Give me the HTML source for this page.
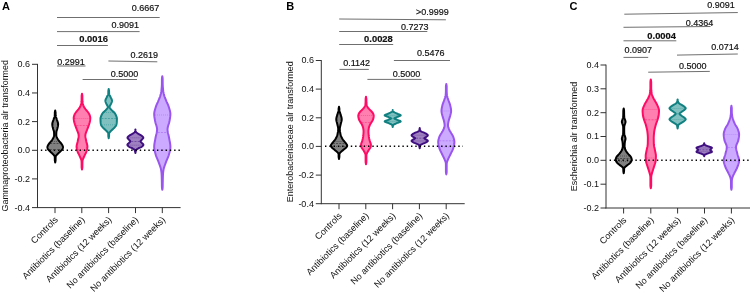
<!DOCTYPE html>
<html><head><meta charset="utf-8"><title>Figure</title>
<style>html,body{margin:0;padding:0;background:#fff;}svg{display:block;}</style>
</head><body>
<svg width="751" height="293" viewBox="0 0 751 293" font-family='"Liberation Sans", sans-serif'>
<rect width="751" height="293" fill="#ffffff"/>
<line x1="37.5" y1="63.9" x2="37.5" y2="208.0" stroke="#333" stroke-width="1.0"/>
<line x1="37.1" y1="207.6" x2="180.6" y2="207.6" stroke="#333" stroke-width="1.0"/>
<line x1="32.0" y1="64.3" x2="37.5" y2="64.3" stroke="#333" stroke-width="1.0"/>
<text x="30.1" y="67.2" font-size="9.0" text-anchor="end" font-weight="normal" fill="#111">0.6</text>
<line x1="32.0" y1="92.96" x2="37.5" y2="92.96" stroke="#333" stroke-width="1.0"/>
<text x="30.1" y="95.86" font-size="9.0" text-anchor="end" font-weight="normal" fill="#111">0.4</text>
<line x1="32.0" y1="121.6" x2="37.5" y2="121.6" stroke="#333" stroke-width="1.0"/>
<text x="30.1" y="124.5" font-size="9.0" text-anchor="end" font-weight="normal" fill="#111">0.2</text>
<line x1="32.0" y1="150.3" x2="37.5" y2="150.3" stroke="#333" stroke-width="1.0"/>
<text x="30.1" y="153.20000000000002" font-size="9.0" text-anchor="end" font-weight="normal" fill="#111">0.0</text>
<line x1="32.0" y1="178.9" x2="37.5" y2="178.9" stroke="#333" stroke-width="1.0"/>
<text x="30.1" y="181.8" font-size="9.0" text-anchor="end" font-weight="normal" fill="#111">-0.2</text>
<line x1="32.0" y1="207.6" x2="37.5" y2="207.6" stroke="#333" stroke-width="1.0"/>
<text x="30.1" y="210.5" font-size="9.0" text-anchor="end" font-weight="normal" fill="#111">-0.4</text>
<line x1="55.0" y1="207.6" x2="55.0" y2="213.1" stroke="#333" stroke-width="1.0"/>
<line x1="81.8" y1="207.6" x2="81.8" y2="213.1" stroke="#333" stroke-width="1.0"/>
<line x1="108.6" y1="207.6" x2="108.6" y2="213.1" stroke="#333" stroke-width="1.0"/>
<line x1="135.5" y1="207.6" x2="135.5" y2="213.1" stroke="#333" stroke-width="1.0"/>
<line x1="162.3" y1="207.6" x2="162.3" y2="213.1" stroke="#333" stroke-width="1.0"/>
<text x="8.1" y="211.5" font-size="8.95" text-anchor="start" font-weight="normal" fill="#111" transform="rotate(-90 8.1 211.5)">Gammaproteobacteria alr transformed</text>
<text x="58.5" y="220.29999999999998" font-size="9.1" text-anchor="end" font-weight="normal" fill="#111" transform="rotate(-45 58.5 220.29999999999998)">Controls</text>
<text x="85.3" y="220.29999999999998" font-size="9.1" text-anchor="end" font-weight="normal" fill="#111" transform="rotate(-45 85.3 220.29999999999998)">Antibiotics (baseline)</text>
<text x="112.1" y="220.29999999999998" font-size="9.1" text-anchor="end" font-weight="normal" fill="#111" transform="rotate(-45 112.1 220.29999999999998)">Antibiotics (12 weeks)</text>
<text x="139.0" y="220.29999999999998" font-size="9.1" text-anchor="end" font-weight="normal" fill="#111" transform="rotate(-45 139.0 220.29999999999998)">No antibiotics (baseline)</text>
<text x="165.8" y="220.29999999999998" font-size="9.1" text-anchor="end" font-weight="normal" fill="#111" transform="rotate(-45 165.8 220.29999999999998)">No antibiotics (12 weeks)</text>
<path d="M55.20,110.50 L55.33,111.16 L55.45,111.82 L55.58,112.47 L55.58,113.13 L55.59,113.79 L55.60,114.45 L55.61,115.11 L55.66,115.77 L55.79,116.42 L55.99,117.08 L56.22,117.74 L56.46,118.40 L56.67,119.06 L56.88,119.72 L57.11,120.37 L57.36,121.03 L57.59,121.69 L57.80,122.35 L57.97,123.01 L58.09,123.66 L58.12,124.32 L58.09,124.98 L58.01,125.64 L57.89,126.30 L57.75,126.96 L57.58,127.61 L57.41,128.27 L57.25,128.93 L57.06,129.59 L56.82,130.25 L56.59,130.91 L56.42,131.56 L56.35,132.22 L56.32,132.88 L56.30,133.54 L56.28,134.20 L56.27,134.85 L56.27,135.51 L56.38,136.17 L56.64,136.83 L56.94,137.49 L57.24,138.15 L57.60,138.80 L58.00,139.46 L58.45,140.12 L58.95,140.78 L59.47,141.44 L60.02,142.09 L60.60,142.75 L61.15,143.41 L61.64,144.07 L62.10,144.73 L62.46,145.39 L62.73,146.04 L62.95,146.70 L63.00,147.36 L62.88,148.02 L62.64,148.68 L62.33,149.34 L61.80,149.99 L61.16,150.65 L60.50,151.31 L59.77,151.97 L59.02,152.63 L58.32,153.28 L57.64,153.94 L57.00,154.60 L56.43,155.26 L55.89,155.92 L55.68,156.58 L55.64,157.23 L55.61,157.89 L55.60,158.55 L55.59,159.21 L55.58,159.87 L55.58,160.53 L55.45,161.18 L55.33,161.84 L55.20,162.50 L55.20,162.50 L55.07,161.84 L54.95,161.18 L54.82,160.53 L54.82,159.87 L54.81,159.21 L54.80,158.55 L54.79,157.89 L54.76,157.23 L54.72,156.58 L54.51,155.92 L53.97,155.26 L53.40,154.60 L52.76,153.94 L52.08,153.28 L51.38,152.63 L50.63,151.97 L49.90,151.31 L49.24,150.65 L48.60,149.99 L48.07,149.34 L47.76,148.68 L47.52,148.02 L47.40,147.36 L47.45,146.70 L47.67,146.04 L47.94,145.39 L48.30,144.73 L48.76,144.07 L49.25,143.41 L49.80,142.75 L50.38,142.09 L50.93,141.44 L51.45,140.78 L51.95,140.12 L52.40,139.46 L52.80,138.80 L53.16,138.15 L53.46,137.49 L53.76,136.83 L54.02,136.17 L54.13,135.51 L54.13,134.85 L54.12,134.20 L54.10,133.54 L54.08,132.88 L54.05,132.22 L53.98,131.56 L53.81,130.91 L53.58,130.25 L53.34,129.59 L53.15,128.93 L52.99,128.27 L52.82,127.61 L52.65,126.96 L52.51,126.30 L52.39,125.64 L52.31,124.98 L52.28,124.32 L52.31,123.66 L52.43,123.01 L52.60,122.35 L52.81,121.69 L53.04,121.03 L53.29,120.37 L53.52,119.72 L53.73,119.06 L53.94,118.40 L54.18,117.74 L54.41,117.08 L54.61,116.42 L54.74,115.77 L54.79,115.11 L54.80,114.45 L54.81,113.79 L54.82,113.13 L54.82,112.47 L54.95,111.82 L55.07,111.16 L55.20,110.50Z" fill="#808080" stroke="#000000" stroke-width="2.0" stroke-linejoin="round"/>
<line x1="50.13" x2="60.27" y1="143.6" y2="143.6" stroke="#000000" stroke-width="0.55" stroke-dasharray="2 1.2" opacity="0.85"/>
<line x1="51.90" x2="58.50" y1="141.5" y2="141.5" stroke="#000000" stroke-width="0.55" stroke-dasharray="0.8 1.2" opacity="0.85"/>
<line x1="49.06" x2="61.34" y1="149.3" y2="149.3" stroke="#000000" stroke-width="0.55" stroke-dasharray="0.8 1.2" opacity="0.85"/>
<path d="M82.00,93.80 L82.18,94.76 L82.36,95.72 L82.38,96.67 L82.38,97.63 L82.39,98.59 L82.40,99.55 L82.42,100.51 L82.48,101.47 L82.59,102.42 L82.76,103.38 L82.97,104.34 L83.28,105.30 L83.68,106.26 L84.17,107.22 L84.72,108.17 L85.46,109.13 L86.30,110.09 L87.13,111.05 L87.86,112.01 L88.54,112.96 L89.15,113.92 L89.55,114.88 L89.89,115.84 L90.16,116.80 L90.30,117.76 L90.28,118.71 L90.19,119.67 L90.06,120.63 L89.90,121.59 L89.66,122.55 L89.36,123.51 L89.06,124.46 L88.73,125.42 L88.38,126.38 L88.01,127.34 L87.64,128.30 L87.30,129.25 L86.95,130.21 L86.56,131.17 L86.16,132.13 L85.80,133.09 L85.51,134.05 L85.35,135.00 L85.33,135.96 L85.42,136.92 L85.57,137.88 L85.77,138.84 L85.97,139.79 L86.17,140.75 L86.37,141.71 L86.61,142.67 L86.87,143.63 L87.12,144.59 L87.31,145.54 L87.41,146.50 L87.38,147.46 L87.25,148.42 L87.04,149.38 L86.80,150.34 L86.53,151.29 L86.16,152.25 L85.71,153.21 L85.22,154.17 L84.77,155.13 L84.32,156.08 L83.88,157.04 L83.46,158.00 L83.07,158.96 L82.69,159.92 L82.49,160.88 L82.45,161.83 L82.42,162.79 L82.40,163.75 L82.39,164.71 L82.38,165.67 L82.38,166.63 L82.36,167.58 L82.18,168.54 L82.00,169.50 L82.00,169.50 L81.82,168.54 L81.64,167.58 L81.62,166.63 L81.62,165.67 L81.61,164.71 L81.60,163.75 L81.58,162.79 L81.55,161.83 L81.51,160.88 L81.31,159.92 L80.93,158.96 L80.54,158.00 L80.12,157.04 L79.68,156.08 L79.23,155.13 L78.78,154.17 L78.29,153.21 L77.84,152.25 L77.47,151.29 L77.20,150.34 L76.96,149.38 L76.75,148.42 L76.62,147.46 L76.59,146.50 L76.69,145.54 L76.88,144.59 L77.13,143.63 L77.39,142.67 L77.63,141.71 L77.83,140.75 L78.03,139.79 L78.23,138.84 L78.43,137.88 L78.58,136.92 L78.67,135.96 L78.65,135.00 L78.49,134.05 L78.20,133.09 L77.84,132.13 L77.44,131.17 L77.05,130.21 L76.70,129.25 L76.36,128.30 L75.99,127.34 L75.62,126.38 L75.27,125.42 L74.94,124.46 L74.64,123.51 L74.34,122.55 L74.10,121.59 L73.94,120.63 L73.81,119.67 L73.72,118.71 L73.70,117.76 L73.84,116.80 L74.11,115.84 L74.45,114.88 L74.85,113.92 L75.46,112.96 L76.14,112.01 L76.87,111.05 L77.70,110.09 L78.54,109.13 L79.28,108.17 L79.83,107.22 L80.32,106.26 L80.72,105.30 L81.03,104.34 L81.24,103.38 L81.41,102.42 L81.52,101.47 L81.58,100.51 L81.60,99.55 L81.61,98.59 L81.62,97.63 L81.62,96.67 L81.64,95.72 L81.82,94.76 L82.00,93.80Z" fill="#FF80B0" stroke="#FF0A64" stroke-width="2.0" stroke-linejoin="round"/>
<line x1="76.38" x2="87.62" y1="125.7" y2="125.7" stroke="#FF0A64" stroke-width="0.55" stroke-dasharray="2 1.2" opacity="0.85"/>
<line x1="74.72" x2="89.28" y1="118.6" y2="118.6" stroke="#FF0A64" stroke-width="0.55" stroke-dasharray="0.8 1.2" opacity="0.85"/>
<line x1="78.00" x2="86.00" y1="149.5" y2="149.5" stroke="#FF0A64" stroke-width="0.55" stroke-dasharray="0.8 1.2" opacity="0.85"/>
<path d="M108.70,89.00 L108.82,89.62 L108.94,90.25 L109.06,90.87 L109.08,91.50 L109.09,92.12 L109.09,92.74 L109.11,93.37 L109.15,93.99 L109.31,94.62 L109.59,95.24 L109.94,95.86 L110.29,96.49 L110.59,97.11 L110.89,97.74 L111.21,98.36 L111.52,98.98 L111.78,99.61 L111.96,100.23 L112.02,100.86 L111.94,101.48 L111.75,102.11 L111.49,102.73 L111.21,103.35 L110.94,103.98 L110.65,104.60 L110.29,105.23 L109.94,105.85 L109.69,106.47 L109.59,107.10 L109.72,107.72 L110.09,108.35 L110.61,108.97 L111.18,109.59 L111.71,110.22 L112.33,110.84 L113.02,111.47 L113.72,112.09 L114.36,112.71 L114.87,113.34 L115.26,113.96 L115.60,114.59 L115.90,115.21 L116.15,115.83 L116.38,116.46 L116.61,117.08 L116.80,117.71 L116.90,118.33 L116.91,118.95 L116.90,119.58 L116.88,120.20 L116.86,120.83 L116.83,121.45 L116.80,122.07 L116.75,122.70 L116.67,123.32 L116.56,123.95 L116.42,124.57 L116.24,125.19 L115.91,125.82 L115.43,126.44 L114.89,127.07 L114.34,127.69 L113.73,128.32 L113.06,128.94 L112.38,129.56 L111.73,130.19 L111.07,130.81 L110.44,131.44 L109.91,132.06 L109.43,132.68 L109.15,133.31 L109.11,133.93 L109.10,134.56 L109.09,135.18 L109.08,135.80 L109.06,136.43 L108.94,137.05 L108.82,137.68 L108.70,138.30 L108.70,138.30 L108.58,137.68 L108.46,137.05 L108.34,136.43 L108.32,135.80 L108.31,135.18 L108.30,134.56 L108.29,133.93 L108.25,133.31 L107.97,132.68 L107.49,132.06 L106.96,131.44 L106.33,130.81 L105.67,130.19 L105.02,129.56 L104.34,128.94 L103.67,128.32 L103.06,127.69 L102.51,127.07 L101.97,126.44 L101.49,125.82 L101.16,125.19 L100.98,124.57 L100.84,123.95 L100.73,123.32 L100.65,122.70 L100.60,122.07 L100.57,121.45 L100.54,120.83 L100.52,120.20 L100.50,119.58 L100.49,118.95 L100.50,118.33 L100.60,117.71 L100.79,117.08 L101.02,116.46 L101.25,115.83 L101.50,115.21 L101.80,114.59 L102.14,113.96 L102.53,113.34 L103.04,112.71 L103.68,112.09 L104.38,111.47 L105.07,110.84 L105.69,110.22 L106.22,109.59 L106.79,108.97 L107.31,108.35 L107.68,107.72 L107.81,107.10 L107.71,106.47 L107.46,105.85 L107.11,105.23 L106.75,104.60 L106.46,103.98 L106.19,103.35 L105.91,102.73 L105.65,102.11 L105.46,101.48 L105.38,100.86 L105.44,100.23 L105.62,99.61 L105.88,98.98 L106.19,98.36 L106.51,97.74 L106.81,97.11 L107.11,96.49 L107.46,95.86 L107.81,95.24 L108.09,94.62 L108.25,93.99 L108.29,93.37 L108.31,92.74 L108.31,92.12 L108.32,91.50 L108.34,90.87 L108.46,90.25 L108.58,89.62 L108.70,89.00Z" fill="#80C0C0" stroke="#118080" stroke-width="2.0" stroke-linejoin="round"/>
<line x1="101.50" x2="115.90" y1="118.5" y2="118.5" stroke="#118080" stroke-width="0.55" stroke-dasharray="2 1.2" opacity="0.85"/>
<line x1="102.05" x2="115.35" y1="124.8" y2="124.8" stroke="#118080" stroke-width="0.55" stroke-dasharray="0.8 1.2" opacity="0.85"/>
<line x1="104.27" x2="113.13" y1="112.5" y2="112.5" stroke="#118080" stroke-width="0.55" stroke-dasharray="0.8 1.2" opacity="0.85"/>
<path d="M135.40,129.50 L135.46,129.80 L135.51,130.09 L135.57,130.39 L135.64,130.69 L135.70,130.99 L135.78,131.28 L135.84,131.58 L135.94,131.88 L136.17,132.18 L136.49,132.47 L136.87,132.77 L137.27,133.07 L137.66,133.37 L138.12,133.66 L138.64,133.96 L139.19,134.26 L139.75,134.56 L140.29,134.85 L140.79,135.15 L141.22,135.45 L141.59,135.75 L141.95,136.04 L142.32,136.34 L142.65,136.64 L142.94,136.94 L143.16,137.23 L143.29,137.53 L143.30,137.83 L143.19,138.13 L142.98,138.42 L142.72,138.72 L142.43,139.02 L142.15,139.32 L141.90,139.61 L141.64,139.91 L141.34,140.21 L141.04,140.51 L140.77,140.80 L140.59,141.10 L140.51,141.40 L140.60,141.70 L140.83,141.99 L141.14,142.29 L141.49,142.59 L141.81,142.89 L142.08,143.18 L142.40,143.48 L142.72,143.78 L143.03,144.08 L143.26,144.37 L143.39,144.67 L143.39,144.97 L143.26,145.27 L143.05,145.56 L142.76,145.86 L142.43,146.16 L142.08,146.46 L141.71,146.75 L141.20,147.05 L140.58,147.35 L139.90,147.65 L139.21,147.94 L138.57,148.24 L138.02,148.54 L137.57,148.84 L137.10,149.13 L136.67,149.43 L136.30,149.73 L136.03,150.03 L135.90,150.32 L135.86,150.62 L135.83,150.92 L135.77,151.22 L135.70,151.51 L135.64,151.81 L135.57,152.11 L135.51,152.41 L135.46,152.70 L135.40,153.00 L135.40,153.00 L135.34,152.70 L135.29,152.41 L135.23,152.11 L135.16,151.81 L135.10,151.51 L135.03,151.22 L134.97,150.92 L134.94,150.62 L134.90,150.32 L134.77,150.03 L134.50,149.73 L134.13,149.43 L133.70,149.13 L133.23,148.84 L132.78,148.54 L132.23,148.24 L131.59,147.94 L130.90,147.65 L130.22,147.35 L129.60,147.05 L129.09,146.75 L128.72,146.46 L128.37,146.16 L128.04,145.86 L127.75,145.56 L127.54,145.27 L127.41,144.97 L127.41,144.67 L127.54,144.37 L127.77,144.08 L128.08,143.78 L128.40,143.48 L128.72,143.18 L128.99,142.89 L129.31,142.59 L129.66,142.29 L129.97,141.99 L130.20,141.70 L130.29,141.40 L130.21,141.10 L130.03,140.80 L129.76,140.51 L129.46,140.21 L129.16,139.91 L128.90,139.61 L128.65,139.32 L128.37,139.02 L128.08,138.72 L127.82,138.42 L127.61,138.13 L127.50,137.83 L127.51,137.53 L127.64,137.23 L127.86,136.94 L128.15,136.64 L128.48,136.34 L128.85,136.04 L129.21,135.75 L129.58,135.45 L130.01,135.15 L130.51,134.85 L131.05,134.56 L131.61,134.26 L132.16,133.96 L132.68,133.66 L133.14,133.37 L133.53,133.07 L133.93,132.77 L134.31,132.47 L134.63,132.18 L134.86,131.88 L134.96,131.58 L135.02,131.28 L135.10,130.99 L135.16,130.69 L135.23,130.39 L135.29,130.09 L135.34,129.80 L135.40,129.50Z" fill="#9F80C0" stroke="#3F0F80" stroke-width="2.0" stroke-linejoin="round"/>
<line x1="131.29" x2="139.51" y1="141.5" y2="141.5" stroke="#3F0F80" stroke-width="0.55" stroke-dasharray="2 1.2" opacity="0.85"/>
<line x1="128.51" x2="142.29" y1="137.8" y2="137.8" stroke="#3F0F80" stroke-width="0.55" stroke-dasharray="0.8 1.2" opacity="0.85"/>
<line x1="128.51" x2="142.29" y1="145.2" y2="145.2" stroke="#3F0F80" stroke-width="0.55" stroke-dasharray="0.8 1.2" opacity="0.85"/>
<path d="M162.30,76.20 L162.57,77.64 L162.68,79.07 L162.68,80.51 L162.69,81.95 L162.70,83.38 L162.73,84.82 L162.79,86.26 L162.90,87.69 L163.03,89.13 L163.18,90.57 L163.37,92.00 L163.65,93.44 L164.01,94.88 L164.43,96.31 L164.95,97.75 L165.55,99.19 L166.16,100.62 L166.77,102.06 L167.42,103.50 L168.05,104.93 L168.61,106.37 L169.06,107.81 L169.51,109.24 L169.92,110.68 L170.23,112.12 L170.40,113.55 L170.38,114.99 L170.25,116.43 L170.05,117.86 L169.80,119.30 L169.55,120.74 L169.26,122.17 L168.85,123.61 L168.39,125.05 L167.96,126.48 L167.64,127.92 L167.51,129.36 L167.60,130.79 L167.82,132.23 L168.13,133.67 L168.48,135.11 L168.82,136.54 L169.11,137.98 L169.36,139.42 L169.64,140.85 L169.91,142.29 L170.14,143.73 L170.32,145.16 L170.40,146.60 L170.37,148.04 L170.19,149.47 L169.90,150.91 L169.55,152.35 L169.15,153.78 L168.75,155.22 L168.24,156.66 L167.63,158.09 L167.00,159.53 L166.44,160.97 L165.88,162.40 L165.34,163.84 L164.83,165.28 L164.32,166.71 L163.86,168.15 L163.54,169.59 L163.31,171.02 L163.14,172.46 L163.03,173.90 L162.95,175.33 L162.89,176.77 L162.85,178.21 L162.81,179.64 L162.78,181.08 L162.75,182.52 L162.73,183.95 L162.71,185.39 L162.69,186.83 L162.58,188.26 L162.30,189.70 L162.30,189.70 L162.02,188.26 L161.91,186.83 L161.89,185.39 L161.87,183.95 L161.85,182.52 L161.82,181.08 L161.79,179.64 L161.75,178.21 L161.71,176.77 L161.65,175.33 L161.57,173.90 L161.46,172.46 L161.29,171.02 L161.06,169.59 L160.74,168.15 L160.28,166.71 L159.77,165.28 L159.26,163.84 L158.72,162.40 L158.16,160.97 L157.60,159.53 L156.97,158.09 L156.36,156.66 L155.85,155.22 L155.45,153.78 L155.05,152.35 L154.70,150.91 L154.41,149.47 L154.23,148.04 L154.20,146.60 L154.28,145.16 L154.46,143.73 L154.69,142.29 L154.96,140.85 L155.24,139.42 L155.49,137.98 L155.78,136.54 L156.12,135.11 L156.47,133.67 L156.78,132.23 L157.00,130.79 L157.09,129.36 L156.96,127.92 L156.64,126.48 L156.21,125.05 L155.75,123.61 L155.34,122.17 L155.05,120.74 L154.80,119.30 L154.55,117.86 L154.35,116.43 L154.22,114.99 L154.20,113.55 L154.37,112.12 L154.68,110.68 L155.09,109.24 L155.54,107.81 L155.99,106.37 L156.55,104.93 L157.18,103.50 L157.83,102.06 L158.44,100.62 L159.05,99.19 L159.65,97.75 L160.17,96.31 L160.59,94.88 L160.95,93.44 L161.23,92.00 L161.42,90.57 L161.57,89.13 L161.70,87.69 L161.81,86.26 L161.87,84.82 L161.90,83.38 L161.91,81.95 L161.92,80.51 L161.92,79.07 L162.03,77.64 L162.30,76.20Z" fill="#CCAAFF" stroke="#9955EE" stroke-width="2.0" stroke-linejoin="round"/>
<line x1="157.74" x2="166.86" y1="132.5" y2="132.5" stroke="#9955EE" stroke-width="0.55" stroke-dasharray="2 1.2" opacity="0.85"/>
<line x1="155.23" x2="169.37" y1="115" y2="115" stroke="#9955EE" stroke-width="0.55" stroke-dasharray="0.8 1.2" opacity="0.85"/>
<line x1="155.51" x2="169.09" y1="150" y2="150" stroke="#9955EE" stroke-width="0.55" stroke-dasharray="0.8 1.2" opacity="0.85"/>
<line x1="40.85" x2="180" y1="150.2" y2="150.2" stroke="#000" stroke-width="1.5" stroke-dasharray="1.4 2.9"/>
<line x1="57" y1="17.5" x2="159.7" y2="17.5" stroke="#555" stroke-width="0.85"/>
<text x="159.3" y="11.2" font-size="9.0" text-anchor="end" font-weight="normal" fill="#111" stroke="#111" stroke-width="0.18">0.6667</text>
<line x1="57" y1="31.6" x2="139.6" y2="31.6" stroke="#555" stroke-width="0.85"/>
<text x="139.0" y="28.2" font-size="9.0" text-anchor="end" font-weight="normal" fill="#111" stroke="#111" stroke-width="0.18">0.9091</text>
<line x1="57" y1="45.5" x2="107.9" y2="45.5" stroke="#555" stroke-width="0.85"/>
<text x="107.9" y="42" font-size="9.4" text-anchor="end" font-weight="bold" fill="#111" stroke="#111" stroke-width="0.18">0.0016</text>
<line x1="57" y1="66.0" x2="85.5" y2="66.0" stroke="#555" stroke-width="0.85"/>
<text x="84.7" y="64.8" font-size="9.0" text-anchor="end" font-weight="normal" fill="#111" stroke="#111" stroke-width="0.18">0.2991</text>
<line x1="108.4" y1="61.0" x2="157.3" y2="61.8" stroke="#555" stroke-width="0.85"/>
<text x="158" y="58.2" font-size="9.0" text-anchor="end" font-weight="normal" fill="#111" stroke="#111" stroke-width="0.18">0.2619</text>
<line x1="82.6" y1="79.5" x2="137" y2="79.5" stroke="#555" stroke-width="0.85"/>
<text x="138.2" y="77" font-size="9.0" text-anchor="end" font-weight="normal" fill="#111" stroke="#111" stroke-width="0.18">0.5000</text>
<text transform="translate(2.1 9.9) scale(1.05 1)" x="0" y="0" font-size="10.5" font-weight="bold" fill="#000">A</text>
<line x1="321.3" y1="60.1" x2="321.3" y2="204.1" stroke="#333" stroke-width="1.0"/>
<line x1="320.90000000000003" y1="203.7" x2="464.7" y2="203.7" stroke="#333" stroke-width="1.0"/>
<line x1="315.8" y1="60.5" x2="321.3" y2="60.5" stroke="#333" stroke-width="1.0"/>
<text x="313.90000000000003" y="63.4" font-size="9.0" text-anchor="end" font-weight="normal" fill="#111">0.6</text>
<line x1="315.8" y1="89.1" x2="321.3" y2="89.1" stroke="#333" stroke-width="1.0"/>
<text x="313.90000000000003" y="92.0" font-size="9.0" text-anchor="end" font-weight="normal" fill="#111">0.4</text>
<line x1="315.8" y1="117.8" x2="321.3" y2="117.8" stroke="#333" stroke-width="1.0"/>
<text x="313.90000000000003" y="120.7" font-size="9.0" text-anchor="end" font-weight="normal" fill="#111">0.2</text>
<line x1="315.8" y1="146.4" x2="321.3" y2="146.4" stroke="#333" stroke-width="1.0"/>
<text x="313.90000000000003" y="149.3" font-size="9.0" text-anchor="end" font-weight="normal" fill="#111">0.0</text>
<line x1="315.8" y1="175.1" x2="321.3" y2="175.1" stroke="#333" stroke-width="1.0"/>
<text x="313.90000000000003" y="178.0" font-size="9.0" text-anchor="end" font-weight="normal" fill="#111">-0.2</text>
<line x1="315.8" y1="203.7" x2="321.3" y2="203.7" stroke="#333" stroke-width="1.0"/>
<text x="313.90000000000003" y="206.6" font-size="9.0" text-anchor="end" font-weight="normal" fill="#111">-0.4</text>
<line x1="339.0" y1="203.7" x2="339.0" y2="209.2" stroke="#333" stroke-width="1.0"/>
<line x1="365.8" y1="203.7" x2="365.8" y2="209.2" stroke="#333" stroke-width="1.0"/>
<line x1="392.6" y1="203.7" x2="392.6" y2="209.2" stroke="#333" stroke-width="1.0"/>
<line x1="419.4" y1="203.7" x2="419.4" y2="209.2" stroke="#333" stroke-width="1.0"/>
<line x1="446.2" y1="203.7" x2="446.2" y2="209.2" stroke="#333" stroke-width="1.0"/>
<text x="293.4" y="202.3" font-size="9.0" text-anchor="start" font-weight="normal" fill="#111" transform="rotate(-90 293.4 202.3)">Enterobacteriaceae alr transformed</text>
<text x="342.5" y="216.39999999999998" font-size="9.1" text-anchor="end" font-weight="normal" fill="#111" transform="rotate(-45 342.5 216.39999999999998)">Controls</text>
<text x="369.3" y="216.39999999999998" font-size="9.1" text-anchor="end" font-weight="normal" fill="#111" transform="rotate(-45 369.3 216.39999999999998)">Antibiotics (baseline)</text>
<text x="396.1" y="216.39999999999998" font-size="9.1" text-anchor="end" font-weight="normal" fill="#111" transform="rotate(-45 396.1 216.39999999999998)">Antibiotics (12 weeks)</text>
<text x="422.9" y="216.39999999999998" font-size="9.1" text-anchor="end" font-weight="normal" fill="#111" transform="rotate(-45 422.9 216.39999999999998)">No antibiotics (baseline)</text>
<text x="449.7" y="216.39999999999998" font-size="9.1" text-anchor="end" font-weight="normal" fill="#111" transform="rotate(-45 449.7 216.39999999999998)">No antibiotics (12 weeks)</text>
<path d="M339.00,106.70 L339.13,107.36 L339.25,108.02 L339.38,108.69 L339.39,109.35 L339.41,110.01 L339.46,110.67 L339.58,111.33 L339.78,112.00 L340.01,112.66 L340.24,113.32 L340.45,113.98 L340.63,114.64 L340.84,115.31 L341.05,115.97 L341.25,116.63 L341.43,117.29 L341.58,117.95 L341.68,118.62 L341.73,119.28 L341.70,119.94 L341.61,120.60 L341.46,121.26 L341.29,121.93 L341.10,122.59 L340.92,123.25 L340.76,123.91 L340.61,124.57 L340.45,125.24 L340.28,125.90 L340.12,126.56 L339.98,127.22 L339.87,127.88 L339.81,128.55 L339.80,129.21 L339.82,129.87 L339.88,130.53 L339.95,131.19 L340.05,131.86 L340.17,132.52 L340.29,133.18 L340.42,133.84 L340.56,134.51 L340.75,135.17 L340.97,135.83 L341.22,136.49 L341.50,137.15 L341.81,137.82 L342.18,138.48 L342.59,139.14 L343.03,139.80 L343.54,140.46 L344.09,141.13 L344.64,141.79 L345.19,142.45 L345.75,143.11 L346.26,143.77 L346.70,144.44 L347.09,145.10 L347.20,145.76 L346.93,146.42 L346.49,147.08 L345.92,147.75 L345.14,148.41 L344.33,149.07 L343.54,149.73 L342.74,150.39 L341.96,151.06 L341.17,151.72 L340.44,152.38 L339.88,153.04 L339.48,153.70 L339.42,154.37 L339.40,155.03 L339.39,155.69 L339.38,156.35 L339.38,157.01 L339.25,157.68 L339.13,158.34 L339.00,159.00 L339.00,159.00 L338.87,158.34 L338.75,157.68 L338.62,157.01 L338.62,156.35 L338.61,155.69 L338.60,155.03 L338.58,154.37 L338.52,153.70 L338.12,153.04 L337.56,152.38 L336.83,151.72 L336.04,151.06 L335.26,150.39 L334.46,149.73 L333.67,149.07 L332.86,148.41 L332.08,147.75 L331.51,147.08 L331.07,146.42 L330.80,145.76 L330.91,145.10 L331.30,144.44 L331.74,143.77 L332.25,143.11 L332.81,142.45 L333.36,141.79 L333.91,141.13 L334.46,140.46 L334.97,139.80 L335.41,139.14 L335.82,138.48 L336.19,137.82 L336.50,137.15 L336.78,136.49 L337.03,135.83 L337.25,135.17 L337.44,134.51 L337.58,133.84 L337.71,133.18 L337.83,132.52 L337.95,131.86 L338.05,131.19 L338.12,130.53 L338.18,129.87 L338.20,129.21 L338.19,128.55 L338.13,127.88 L338.02,127.22 L337.88,126.56 L337.72,125.90 L337.55,125.24 L337.39,124.57 L337.24,123.91 L337.08,123.25 L336.90,122.59 L336.71,121.93 L336.54,121.26 L336.39,120.60 L336.30,119.94 L336.27,119.28 L336.32,118.62 L336.42,117.95 L336.57,117.29 L336.75,116.63 L336.95,115.97 L337.16,115.31 L337.37,114.64 L337.55,113.98 L337.76,113.32 L337.99,112.66 L338.22,112.00 L338.42,111.33 L338.54,110.67 L338.59,110.01 L338.61,109.35 L338.62,108.69 L338.75,108.02 L338.87,107.36 L339.00,106.70Z" fill="#808080" stroke="#000000" stroke-width="2.0" stroke-linejoin="round"/>
<line x1="332.87" x2="345.13" y1="143.6" y2="143.6" stroke="#000000" stroke-width="0.55" stroke-dasharray="2 1.2" opacity="0.85"/>
<line x1="334.61" x2="343.39" y1="141.5" y2="141.5" stroke="#000000" stroke-width="0.55" stroke-dasharray="0.8 1.2" opacity="0.85"/>
<line x1="332.19" x2="345.81" y1="146.6" y2="146.6" stroke="#000000" stroke-width="0.55" stroke-dasharray="0.8 1.2" opacity="0.85"/>
<path d="M366.00,96.70 L366.16,97.56 L366.33,98.41 L366.38,99.27 L366.39,100.12 L366.39,100.98 L366.41,101.83 L366.43,102.69 L366.51,103.55 L366.64,104.40 L366.82,105.26 L367.10,106.11 L367.55,106.97 L368.13,107.82 L368.77,108.68 L369.59,109.54 L370.52,110.39 L371.39,111.25 L372.11,112.10 L372.76,112.96 L373.22,113.81 L373.51,114.67 L373.70,115.53 L373.69,116.38 L373.58,117.24 L373.42,118.09 L373.22,118.95 L372.91,119.80 L372.43,120.66 L371.90,121.52 L371.40,122.37 L370.87,123.23 L370.34,124.08 L369.89,124.94 L369.53,125.79 L369.20,126.65 L368.93,127.51 L368.76,128.36 L368.62,129.22 L368.50,130.07 L368.44,130.93 L368.43,131.78 L368.46,132.64 L368.51,133.49 L368.58,134.35 L368.65,135.21 L368.74,136.06 L368.87,136.92 L369.03,137.77 L369.20,138.63 L369.39,139.48 L369.58,140.34 L369.82,141.20 L370.15,142.05 L370.49,142.91 L370.77,143.76 L370.91,144.62 L370.88,145.47 L370.75,146.33 L370.57,147.19 L370.15,148.04 L369.55,148.90 L368.92,149.75 L368.38,150.61 L367.87,151.46 L367.40,152.32 L366.99,153.18 L366.61,154.03 L366.43,154.89 L366.41,155.74 L366.40,156.60 L366.39,157.45 L366.39,158.31 L366.38,159.17 L366.38,160.02 L366.38,160.88 L366.38,161.73 L366.33,162.59 L366.16,163.44 L366.00,164.30 L366.00,164.30 L365.84,163.44 L365.67,162.59 L365.62,161.73 L365.62,160.88 L365.62,160.02 L365.62,159.17 L365.61,158.31 L365.61,157.45 L365.60,156.60 L365.59,155.74 L365.57,154.89 L365.39,154.03 L365.01,153.18 L364.60,152.32 L364.13,151.46 L363.62,150.61 L363.08,149.75 L362.45,148.90 L361.85,148.04 L361.43,147.19 L361.25,146.33 L361.12,145.47 L361.09,144.62 L361.23,143.76 L361.51,142.91 L361.85,142.05 L362.18,141.20 L362.42,140.34 L362.61,139.48 L362.80,138.63 L362.97,137.77 L363.13,136.92 L363.26,136.06 L363.35,135.21 L363.42,134.35 L363.49,133.49 L363.54,132.64 L363.57,131.78 L363.56,130.93 L363.50,130.07 L363.38,129.22 L363.24,128.36 L363.07,127.51 L362.80,126.65 L362.47,125.79 L362.11,124.94 L361.66,124.08 L361.13,123.23 L360.60,122.37 L360.10,121.52 L359.57,120.66 L359.09,119.80 L358.78,118.95 L358.58,118.09 L358.42,117.24 L358.31,116.38 L358.30,115.53 L358.49,114.67 L358.78,113.81 L359.24,112.96 L359.89,112.10 L360.61,111.25 L361.48,110.39 L362.41,109.54 L363.23,108.68 L363.87,107.82 L364.45,106.97 L364.90,106.11 L365.18,105.26 L365.36,104.40 L365.49,103.55 L365.57,102.69 L365.59,101.83 L365.61,100.98 L365.61,100.12 L365.62,99.27 L365.67,98.41 L365.84,97.56 L366.00,96.70Z" fill="#FF80B0" stroke="#FF0A64" stroke-width="2.0" stroke-linejoin="round"/>
<line x1="361.57" x2="370.43" y1="122.3" y2="122.3" stroke="#FF0A64" stroke-width="0.55" stroke-dasharray="2 1.2" opacity="0.85"/>
<line x1="359.31" x2="372.69" y1="115.6" y2="115.6" stroke="#FF0A64" stroke-width="0.55" stroke-dasharray="0.8 1.2" opacity="0.85"/>
<line x1="362.14" x2="369.86" y1="145.5" y2="145.5" stroke="#FF0A64" stroke-width="0.55" stroke-dasharray="0.8 1.2" opacity="0.85"/>
<path d="M392.70,110.10 L392.74,110.31 L392.79,110.53 L392.84,110.74 L392.89,110.96 L392.96,111.17 L393.04,111.38 L393.22,111.60 L393.51,111.81 L393.87,112.03 L394.24,112.24 L394.61,112.45 L395.03,112.67 L395.50,112.88 L395.98,113.09 L396.47,113.31 L396.95,113.52 L397.43,113.74 L397.98,113.95 L398.58,114.16 L399.17,114.38 L399.73,114.59 L400.19,114.81 L400.53,115.02 L400.70,115.23 L400.66,115.45 L400.41,115.66 L400.02,115.88 L399.51,116.09 L398.93,116.30 L398.33,116.52 L397.75,116.73 L397.23,116.95 L396.76,117.16 L396.22,117.37 L395.65,117.59 L395.13,117.80 L394.70,118.02 L394.42,118.23 L394.35,118.44 L394.51,118.66 L394.85,118.87 L395.32,119.08 L395.87,119.30 L396.43,119.51 L396.96,119.73 L397.44,119.94 L398.02,120.15 L398.65,120.37 L399.28,120.58 L399.86,120.80 L400.32,121.01 L400.62,121.22 L400.70,121.44 L400.54,121.65 L400.18,121.87 L399.68,122.08 L399.08,122.29 L398.44,122.51 L397.82,122.72 L397.26,122.94 L396.78,123.15 L396.29,123.36 L395.80,123.58 L395.33,123.79 L394.88,124.01 L394.48,124.22 L394.12,124.43 L393.75,124.65 L393.43,124.86 L393.20,125.07 L393.08,125.29 L393.02,125.50 L392.97,125.72 L392.92,125.93 L392.87,126.14 L392.83,126.36 L392.78,126.57 L392.74,126.79 L392.70,127.00 L392.70,127.00 L392.66,126.79 L392.62,126.57 L392.57,126.36 L392.53,126.14 L392.48,125.93 L392.43,125.72 L392.38,125.50 L392.32,125.29 L392.20,125.07 L391.97,124.86 L391.65,124.65 L391.28,124.43 L390.92,124.22 L390.52,124.01 L390.07,123.79 L389.60,123.58 L389.11,123.36 L388.62,123.15 L388.14,122.94 L387.58,122.72 L386.96,122.51 L386.32,122.29 L385.72,122.08 L385.22,121.87 L384.86,121.65 L384.70,121.44 L384.78,121.22 L385.08,121.01 L385.54,120.80 L386.12,120.58 L386.75,120.37 L387.38,120.15 L387.96,119.94 L388.44,119.73 L388.97,119.51 L389.53,119.30 L390.08,119.08 L390.55,118.87 L390.89,118.66 L391.05,118.44 L390.98,118.23 L390.70,118.02 L390.27,117.80 L389.75,117.59 L389.18,117.37 L388.64,117.16 L388.17,116.95 L387.65,116.73 L387.07,116.52 L386.47,116.30 L385.89,116.09 L385.38,115.88 L384.99,115.66 L384.74,115.45 L384.70,115.23 L384.87,115.02 L385.21,114.81 L385.67,114.59 L386.23,114.38 L386.82,114.16 L387.42,113.95 L387.97,113.74 L388.45,113.52 L388.93,113.31 L389.42,113.09 L389.90,112.88 L390.37,112.67 L390.79,112.45 L391.16,112.24 L391.53,112.03 L391.89,111.81 L392.18,111.60 L392.36,111.38 L392.44,111.17 L392.51,110.96 L392.56,110.74 L392.61,110.53 L392.66,110.31 L392.70,110.10Z" fill="#80C0C0" stroke="#118080" stroke-width="2.0" stroke-linejoin="round"/>
<line x1="392.10" x2="393.30" y1="118.4" y2="118.4" stroke="#118080" stroke-width="0.55" stroke-dasharray="2 1.2" opacity="0.85"/>
<line x1="385.70" x2="399.70" y1="115.3" y2="115.3" stroke="#118080" stroke-width="0.55" stroke-dasharray="0.8 1.2" opacity="0.85"/>
<line x1="385.70" x2="399.70" y1="121.4" y2="121.4" stroke="#118080" stroke-width="0.55" stroke-dasharray="0.8 1.2" opacity="0.85"/>
<path d="M419.70,128.10 L419.75,128.35 L419.80,128.61 L419.85,128.86 L419.90,129.12 L419.95,129.37 L420.01,129.63 L420.06,129.88 L420.12,130.14 L420.19,130.39 L420.34,130.64 L420.55,130.90 L420.83,131.15 L421.13,131.41 L421.49,131.66 L422.03,131.92 L422.68,132.17 L423.37,132.43 L424.03,132.68 L424.59,132.93 L425.05,133.19 L425.52,133.44 L425.98,133.70 L426.43,133.95 L426.85,134.21 L427.21,134.46 L427.50,134.72 L427.71,134.97 L427.80,135.22 L427.77,135.48 L427.62,135.73 L427.38,135.99 L427.07,136.24 L426.73,136.50 L426.40,136.75 L426.07,137.01 L425.63,137.26 L425.14,137.51 L424.69,137.77 L424.39,138.02 L424.33,138.28 L424.54,138.53 L424.94,138.79 L425.42,139.04 L425.90,139.29 L426.28,139.55 L426.64,139.80 L427.03,140.06 L427.38,140.31 L427.66,140.57 L427.80,140.82 L427.77,141.08 L427.58,141.33 L427.27,141.58 L426.87,141.84 L426.43,142.09 L425.97,142.35 L425.53,142.60 L424.99,142.86 L424.36,143.11 L423.71,143.37 L423.06,143.62 L422.48,143.87 L421.98,144.13 L421.46,144.38 L420.97,144.64 L420.57,144.89 L420.32,145.15 L420.23,145.40 L420.19,145.66 L420.15,145.91 L420.13,146.16 L420.07,146.42 L420.01,146.67 L419.95,146.93 L419.90,147.18 L419.85,147.44 L419.80,147.69 L419.75,147.95 L419.70,148.20 L419.70,148.20 L419.65,147.95 L419.60,147.69 L419.55,147.44 L419.50,147.18 L419.45,146.93 L419.39,146.67 L419.33,146.42 L419.27,146.16 L419.25,145.91 L419.21,145.66 L419.17,145.40 L419.08,145.15 L418.83,144.89 L418.43,144.64 L417.94,144.38 L417.42,144.13 L416.92,143.87 L416.34,143.62 L415.69,143.37 L415.04,143.11 L414.41,142.86 L413.87,142.60 L413.43,142.35 L412.97,142.09 L412.53,141.84 L412.13,141.58 L411.82,141.33 L411.63,141.08 L411.60,140.82 L411.74,140.57 L412.02,140.31 L412.37,140.06 L412.76,139.80 L413.12,139.55 L413.50,139.29 L413.98,139.04 L414.46,138.79 L414.86,138.53 L415.07,138.28 L415.01,138.02 L414.71,137.77 L414.26,137.51 L413.77,137.26 L413.33,137.01 L413.00,136.75 L412.67,136.50 L412.33,136.24 L412.02,135.99 L411.78,135.73 L411.63,135.48 L411.60,135.22 L411.69,134.97 L411.90,134.72 L412.19,134.46 L412.55,134.21 L412.97,133.95 L413.42,133.70 L413.88,133.44 L414.35,133.19 L414.81,132.93 L415.37,132.68 L416.03,132.43 L416.72,132.17 L417.37,131.92 L417.91,131.66 L418.27,131.41 L418.57,131.15 L418.85,130.90 L419.06,130.64 L419.21,130.39 L419.28,130.14 L419.34,129.88 L419.39,129.63 L419.45,129.37 L419.50,129.12 L419.55,128.86 L419.60,128.61 L419.65,128.35 L419.70,128.10Z" fill="#9F80C0" stroke="#3F0F80" stroke-width="2.0" stroke-linejoin="round"/>
<line x1="416.10" x2="423.30" y1="138.2" y2="138.2" stroke="#3F0F80" stroke-width="0.55" stroke-dasharray="2 1.2" opacity="0.85"/>
<line x1="412.61" x2="426.79" y1="135.2" y2="135.2" stroke="#3F0F80" stroke-width="0.55" stroke-dasharray="0.8 1.2" opacity="0.85"/>
<line x1="412.61" x2="426.79" y1="141" y2="141" stroke="#3F0F80" stroke-width="0.55" stroke-dasharray="0.8 1.2" opacity="0.85"/>
<path d="M446.30,84.00 L446.52,85.14 L446.68,86.29 L446.68,87.43 L446.69,88.58 L446.69,89.72 L446.70,90.87 L446.73,92.01 L446.78,93.15 L446.86,94.30 L446.98,95.44 L447.22,96.59 L447.56,97.73 L447.95,98.88 L448.34,100.02 L448.75,101.16 L449.21,102.31 L449.65,103.45 L450.02,104.60 L450.29,105.74 L450.56,106.89 L450.79,108.03 L450.98,109.17 L451.10,110.32 L451.10,111.46 L450.96,112.61 L450.70,113.75 L450.40,114.90 L450.11,116.04 L449.79,117.18 L449.41,118.33 L449.03,119.47 L448.72,120.62 L448.47,121.76 L448.24,122.91 L448.05,124.05 L447.95,125.19 L448.03,126.34 L448.35,127.48 L448.79,128.63 L449.26,129.77 L449.88,130.92 L450.57,132.06 L451.23,133.21 L451.92,134.35 L452.62,135.49 L453.18,136.64 L453.56,137.78 L453.91,138.93 L454.19,140.07 L454.37,141.22 L454.40,142.36 L454.31,143.50 L454.13,144.65 L453.88,145.79 L453.59,146.94 L453.29,148.08 L452.90,149.23 L452.40,150.37 L451.84,151.51 L451.28,152.66 L450.73,153.80 L450.15,154.95 L449.57,156.09 L449.01,157.24 L448.47,158.38 L447.95,159.52 L447.50,160.67 L447.05,161.81 L446.77,162.96 L446.72,164.10 L446.70,165.25 L446.69,166.39 L446.69,167.53 L446.68,168.68 L446.68,169.82 L446.68,170.97 L446.68,172.11 L446.52,173.26 L446.30,174.40 L446.30,174.40 L446.08,173.26 L445.92,172.11 L445.92,170.97 L445.92,169.82 L445.92,168.68 L445.91,167.53 L445.91,166.39 L445.90,165.25 L445.88,164.10 L445.83,162.96 L445.55,161.81 L445.10,160.67 L444.65,159.52 L444.13,158.38 L443.59,157.24 L443.03,156.09 L442.45,154.95 L441.87,153.80 L441.32,152.66 L440.76,151.51 L440.20,150.37 L439.70,149.23 L439.31,148.08 L439.01,146.94 L438.72,145.79 L438.47,144.65 L438.29,143.50 L438.20,142.36 L438.23,141.22 L438.41,140.07 L438.69,138.93 L439.04,137.78 L439.42,136.64 L439.98,135.49 L440.68,134.35 L441.37,133.21 L442.03,132.06 L442.72,130.92 L443.34,129.77 L443.81,128.63 L444.25,127.48 L444.57,126.34 L444.65,125.19 L444.55,124.05 L444.36,122.91 L444.13,121.76 L443.88,120.62 L443.57,119.47 L443.19,118.33 L442.81,117.18 L442.49,116.04 L442.20,114.90 L441.90,113.75 L441.64,112.61 L441.50,111.46 L441.50,110.32 L441.62,109.17 L441.81,108.03 L442.04,106.89 L442.31,105.74 L442.58,104.60 L442.95,103.45 L443.39,102.31 L443.85,101.16 L444.26,100.02 L444.65,98.88 L445.04,97.73 L445.38,96.59 L445.62,95.44 L445.74,94.30 L445.82,93.15 L445.87,92.01 L445.90,90.87 L445.91,89.72 L445.91,88.58 L445.92,87.43 L445.92,86.29 L446.08,85.14 L446.30,84.00Z" fill="#CCAAFF" stroke="#9955EE" stroke-width="2.0" stroke-linejoin="round"/>
<line x1="439.29" x2="453.31" y1="140.8" y2="140.8" stroke="#9955EE" stroke-width="0.55" stroke-dasharray="2 1.2" opacity="0.85"/>
<line x1="442.50" x2="450.10" y1="111" y2="111" stroke="#9955EE" stroke-width="0.55" stroke-dasharray="0.8 1.2" opacity="0.85"/>
<line x1="440.04" x2="452.56" y1="147" y2="147" stroke="#9955EE" stroke-width="0.55" stroke-dasharray="0.8 1.2" opacity="0.85"/>
<line x1="325" x2="463" y1="146.3" y2="146.3" stroke="#000" stroke-width="1.5" stroke-dasharray="1.4 2.9"/>
<line x1="339.2" y1="19.0" x2="445.9" y2="19.8" stroke="#555" stroke-width="0.85"/>
<text x="448.8" y="14.8" font-size="9.0" text-anchor="end" font-weight="normal" fill="#111" stroke="#111" stroke-width="0.18">&gt;0.9999</text>
<line x1="339.2" y1="31.5" x2="427.3" y2="31.5" stroke="#555" stroke-width="0.85"/>
<text x="428.5" y="30.3" font-size="9.0" text-anchor="end" font-weight="normal" fill="#111" stroke="#111" stroke-width="0.18">0.7273</text>
<line x1="339.2" y1="44.5" x2="393.2" y2="44.5" stroke="#555" stroke-width="0.85"/>
<text x="392.8" y="42.2" font-size="9.4" text-anchor="end" font-weight="bold" fill="#111" stroke="#111" stroke-width="0.18">0.0028</text>
<line x1="339.5" y1="69.4" x2="368.8" y2="69.4" stroke="#555" stroke-width="0.85"/>
<text x="370" y="65.7" font-size="9.0" text-anchor="end" font-weight="normal" fill="#111" stroke="#111" stroke-width="0.18">0.1142</text>
<line x1="393.9" y1="60.5" x2="450" y2="60.5" stroke="#555" stroke-width="0.85"/>
<text x="444.5" y="56.3" font-size="9.0" text-anchor="end" font-weight="normal" fill="#111" stroke="#111" stroke-width="0.18">0.5476</text>
<line x1="367.4" y1="79.4" x2="421.5" y2="79.4" stroke="#555" stroke-width="0.85"/>
<text x="420.3" y="77.4" font-size="9.0" text-anchor="end" font-weight="normal" fill="#111" stroke="#111" stroke-width="0.18">0.5000</text>
<text transform="translate(286.3 10) scale(1.05 1)" x="0" y="0" font-size="10.5" font-weight="bold" fill="#000">B</text>
<line x1="606" y1="64.6" x2="606" y2="208.4" stroke="#333" stroke-width="1.0"/>
<line x1="605.6" y1="208.0" x2="750" y2="208.0" stroke="#333" stroke-width="1.0"/>
<line x1="600.5" y1="65" x2="606" y2="65" stroke="#333" stroke-width="1.0"/>
<text x="599.1" y="67.9" font-size="9.0" text-anchor="end" font-weight="normal" fill="#111">0.4</text>
<line x1="600.5" y1="88.8" x2="606" y2="88.8" stroke="#333" stroke-width="1.0"/>
<text x="599.1" y="91.7" font-size="9.0" text-anchor="end" font-weight="normal" fill="#111">0.3</text>
<line x1="600.5" y1="112.7" x2="606" y2="112.7" stroke="#333" stroke-width="1.0"/>
<text x="599.1" y="115.60000000000001" font-size="9.0" text-anchor="end" font-weight="normal" fill="#111">0.2</text>
<line x1="600.5" y1="136.5" x2="606" y2="136.5" stroke="#333" stroke-width="1.0"/>
<text x="599.1" y="139.4" font-size="9.0" text-anchor="end" font-weight="normal" fill="#111">0.1</text>
<line x1="600.5" y1="160.3" x2="606" y2="160.3" stroke="#333" stroke-width="1.0"/>
<text x="599.1" y="163.20000000000002" font-size="9.0" text-anchor="end" font-weight="normal" fill="#111">0.0</text>
<line x1="600.5" y1="184.2" x2="606" y2="184.2" stroke="#333" stroke-width="1.0"/>
<text x="599.1" y="187.1" font-size="9.0" text-anchor="end" font-weight="normal" fill="#111">-0.1</text>
<line x1="600.5" y1="208.0" x2="606" y2="208.0" stroke="#333" stroke-width="1.0"/>
<text x="599.1" y="210.9" font-size="9.0" text-anchor="end" font-weight="normal" fill="#111">-0.2</text>
<line x1="623.6" y1="208.0" x2="623.6" y2="213.5" stroke="#333" stroke-width="1.0"/>
<line x1="650.8" y1="208.0" x2="650.8" y2="213.5" stroke="#333" stroke-width="1.0"/>
<line x1="677.6" y1="208.0" x2="677.6" y2="213.5" stroke="#333" stroke-width="1.0"/>
<line x1="704.5" y1="208.0" x2="704.5" y2="213.5" stroke="#333" stroke-width="1.0"/>
<line x1="731.4" y1="208.0" x2="731.4" y2="213.5" stroke="#333" stroke-width="1.0"/>
<text x="577.5" y="191.3" font-size="9.0" text-anchor="start" font-weight="normal" fill="#111" transform="rotate(-90 577.5 191.3)">Escherichia alr transformed</text>
<text x="627.1" y="220.7" font-size="9.1" text-anchor="end" font-weight="normal" fill="#111" transform="rotate(-45 627.1 220.7)">Controls</text>
<text x="654.3" y="220.7" font-size="9.1" text-anchor="end" font-weight="normal" fill="#111" transform="rotate(-45 654.3 220.7)">Antibiotics (baseline)</text>
<text x="681.1" y="220.7" font-size="9.1" text-anchor="end" font-weight="normal" fill="#111" transform="rotate(-45 681.1 220.7)">Antibiotics (12 weeks)</text>
<text x="708.0" y="220.7" font-size="9.1" text-anchor="end" font-weight="normal" fill="#111" transform="rotate(-45 708.0 220.7)">No antibiotics (baseline)</text>
<text x="734.9" y="220.7" font-size="9.1" text-anchor="end" font-weight="normal" fill="#111" transform="rotate(-45 734.9 220.7)">No antibiotics (12 weeks)</text>
<path d="M623.70,108.40 L623.86,109.22 L624.01,110.04 L624.08,110.86 L624.09,111.69 L624.10,112.51 L624.11,113.33 L624.12,114.15 L624.14,114.97 L624.17,115.79 L624.22,116.62 L624.31,117.44 L624.54,118.26 L624.83,119.08 L625.08,119.90 L625.35,120.72 L625.53,121.54 L625.47,122.37 L625.23,123.19 L624.96,124.01 L624.67,124.83 L624.39,125.65 L624.25,126.47 L624.22,127.29 L624.20,128.12 L624.19,128.94 L624.18,129.76 L624.19,130.58 L624.20,131.40 L624.21,132.22 L624.24,133.05 L624.28,133.87 L624.46,134.69 L624.72,135.51 L624.97,136.33 L625.21,137.15 L625.44,137.97 L625.54,138.80 L625.42,139.62 L625.17,140.44 L624.96,141.26 L624.85,142.08 L624.76,142.90 L624.69,143.73 L624.65,144.55 L624.61,145.37 L624.59,146.19 L624.61,147.01 L624.75,147.83 L624.96,148.65 L625.21,149.48 L625.59,150.30 L626.06,151.12 L626.59,151.94 L627.19,152.76 L627.90,153.58 L628.63,154.41 L629.41,155.23 L630.22,156.05 L630.84,156.87 L631.22,157.69 L631.53,158.51 L631.70,159.33 L631.65,160.16 L631.39,160.98 L631.01,161.80 L630.45,162.62 L629.56,163.44 L628.60,164.26 L627.53,165.08 L626.44,165.91 L625.37,166.73 L624.53,167.55 L624.16,168.37 L624.10,169.19 L624.09,170.01 L624.08,170.84 L624.01,171.66 L623.86,172.48 L623.70,173.30 L623.70,173.30 L623.54,172.48 L623.39,171.66 L623.32,170.84 L623.31,170.01 L623.30,169.19 L623.24,168.37 L622.87,167.55 L622.03,166.73 L620.96,165.91 L619.87,165.08 L618.80,164.26 L617.84,163.44 L616.95,162.62 L616.39,161.80 L616.01,160.98 L615.75,160.16 L615.70,159.33 L615.87,158.51 L616.18,157.69 L616.56,156.87 L617.18,156.05 L617.99,155.23 L618.77,154.41 L619.50,153.58 L620.21,152.76 L620.81,151.94 L621.34,151.12 L621.81,150.30 L622.19,149.48 L622.44,148.65 L622.65,147.83 L622.79,147.01 L622.81,146.19 L622.79,145.37 L622.75,144.55 L622.71,143.73 L622.64,142.90 L622.55,142.08 L622.44,141.26 L622.23,140.44 L621.98,139.62 L621.86,138.80 L621.96,137.97 L622.19,137.15 L622.43,136.33 L622.68,135.51 L622.94,134.69 L623.12,133.87 L623.16,133.05 L623.19,132.22 L623.20,131.40 L623.21,130.58 L623.22,129.76 L623.21,128.94 L623.20,128.12 L623.18,127.29 L623.15,126.47 L623.01,125.65 L622.73,124.83 L622.44,124.01 L622.17,123.19 L621.93,122.37 L621.87,121.54 L622.05,120.72 L622.32,119.90 L622.57,119.08 L622.86,118.26 L623.09,117.44 L623.18,116.62 L623.23,115.79 L623.26,114.97 L623.28,114.15 L623.29,113.33 L623.30,112.51 L623.31,111.69 L623.32,110.86 L623.39,110.04 L623.54,109.22 L623.70,108.40Z" fill="#808080" stroke="#000000" stroke-width="2.0" stroke-linejoin="round"/>
<line x1="616.92" x2="630.48" y1="158.4" y2="158.4" stroke="#000000" stroke-width="0.55" stroke-dasharray="2 1.2" opacity="0.85"/>
<line x1="618.23" x2="629.17" y1="156" y2="156" stroke="#000000" stroke-width="0.55" stroke-dasharray="0.8 1.2" opacity="0.85"/>
<line x1="617.16" x2="630.24" y1="161.3" y2="161.3" stroke="#000000" stroke-width="0.55" stroke-dasharray="0.8 1.2" opacity="0.85"/>
<path d="M650.80,79.40 L651.06,80.78 L651.18,82.16 L651.18,83.54 L651.19,84.91 L651.19,86.29 L651.20,87.67 L651.23,89.05 L651.30,90.43 L651.44,91.81 L651.63,93.18 L651.95,94.56 L652.42,95.94 L652.97,97.32 L653.68,98.70 L654.49,100.08 L655.27,101.46 L656.08,102.83 L656.85,104.21 L657.46,105.59 L658.07,106.97 L658.61,108.35 L658.95,109.73 L659.00,111.11 L658.94,112.48 L658.82,113.86 L658.68,115.24 L658.42,116.62 L658.05,118.00 L657.65,119.38 L657.21,120.75 L656.70,122.13 L656.18,123.51 L655.74,124.89 L655.38,126.27 L655.02,127.65 L654.69,129.03 L654.41,130.40 L654.19,131.78 L654.04,133.16 L653.91,134.54 L653.80,135.92 L653.73,137.30 L653.73,138.67 L653.74,140.05 L653.76,141.43 L653.79,142.81 L653.83,144.19 L653.98,145.57 L654.25,146.95 L654.57,148.32 L654.86,149.70 L655.13,151.08 L655.43,152.46 L655.71,153.84 L655.88,155.22 L655.91,156.59 L655.86,157.97 L655.76,159.35 L655.64,160.73 L655.43,162.11 L655.05,163.49 L654.59,164.87 L654.15,166.24 L653.72,167.62 L653.27,169.00 L652.83,170.38 L652.41,171.76 L651.98,173.14 L651.62,174.52 L651.33,175.89 L651.20,177.27 L651.19,178.65 L651.18,180.03 L651.18,181.41 L651.18,182.79 L651.18,184.16 L651.18,185.54 L651.06,186.92 L650.80,188.30 L650.80,188.30 L650.54,186.92 L650.42,185.54 L650.42,184.16 L650.42,182.79 L650.42,181.41 L650.42,180.03 L650.41,178.65 L650.40,177.27 L650.27,175.89 L649.98,174.52 L649.62,173.14 L649.19,171.76 L648.77,170.38 L648.33,169.00 L647.88,167.62 L647.45,166.24 L647.01,164.87 L646.55,163.49 L646.17,162.11 L645.96,160.73 L645.84,159.35 L645.74,157.97 L645.69,156.59 L645.72,155.22 L645.89,153.84 L646.17,152.46 L646.47,151.08 L646.74,149.70 L647.03,148.32 L647.35,146.95 L647.62,145.57 L647.77,144.19 L647.81,142.81 L647.84,141.43 L647.86,140.05 L647.87,138.67 L647.87,137.30 L647.80,135.92 L647.69,134.54 L647.56,133.16 L647.41,131.78 L647.19,130.40 L646.91,129.03 L646.58,127.65 L646.22,126.27 L645.86,124.89 L645.42,123.51 L644.90,122.13 L644.39,120.75 L643.95,119.38 L643.55,118.00 L643.18,116.62 L642.92,115.24 L642.78,113.86 L642.66,112.48 L642.60,111.11 L642.65,109.73 L642.99,108.35 L643.53,106.97 L644.14,105.59 L644.75,104.21 L645.52,102.83 L646.33,101.46 L647.11,100.08 L647.92,98.70 L648.63,97.32 L649.18,95.94 L649.65,94.56 L649.97,93.18 L650.16,91.81 L650.30,90.43 L650.37,89.05 L650.40,87.67 L650.41,86.29 L650.41,84.91 L650.42,83.54 L650.42,82.16 L650.54,80.78 L650.80,79.40Z" fill="#FF80B0" stroke="#FF0A64" stroke-width="2.0" stroke-linejoin="round"/>
<line x1="645.09" x2="656.51" y1="119.8" y2="119.8" stroke="#FF0A64" stroke-width="0.55" stroke-dasharray="2 1.2" opacity="0.85"/>
<line x1="643.68" x2="657.92" y1="109.6" y2="109.6" stroke="#FF0A64" stroke-width="0.55" stroke-dasharray="0.8 1.2" opacity="0.85"/>
<line x1="646.76" x2="654.84" y1="158" y2="158" stroke="#FF0A64" stroke-width="0.55" stroke-dasharray="0.8 1.2" opacity="0.85"/>
<path d="M677.60,99.40 L677.67,99.77 L677.74,100.14 L677.81,100.51 L677.89,100.88 L677.97,101.25 L678.01,101.62 L678.07,101.99 L678.24,102.36 L678.52,102.73 L678.86,103.10 L679.25,103.47 L679.80,103.84 L680.44,104.21 L681.10,104.57 L681.73,104.94 L682.32,105.31 L682.92,105.68 L683.49,106.05 L684.00,106.42 L684.43,106.79 L684.87,107.16 L685.28,107.53 L685.58,107.90 L685.71,108.27 L685.61,108.64 L685.33,109.01 L684.94,109.38 L684.50,109.75 L684.07,110.12 L683.58,110.49 L683.01,110.86 L682.43,111.23 L681.88,111.60 L681.41,111.97 L680.90,112.34 L680.39,112.71 L679.95,113.08 L679.65,113.45 L679.54,113.82 L679.67,114.18 L679.99,114.55 L680.43,114.92 L680.94,115.29 L681.45,115.66 L681.92,116.03 L682.47,116.40 L683.06,116.77 L683.62,117.14 L684.11,117.51 L684.53,117.88 L684.97,118.25 L685.36,118.62 L685.63,118.99 L685.71,119.36 L685.56,119.73 L685.25,120.10 L684.84,120.47 L684.40,120.84 L683.96,121.21 L683.45,121.58 L682.87,121.95 L682.27,122.32 L681.68,122.69 L681.06,123.06 L680.42,123.43 L679.81,123.79 L679.29,124.16 L678.83,124.53 L678.42,124.90 L678.15,125.27 L678.07,125.64 L678.03,126.01 L678.01,126.38 L677.97,126.75 L677.89,127.12 L677.81,127.49 L677.74,127.86 L677.67,128.23 L677.60,128.60 L677.60,128.60 L677.53,128.23 L677.46,127.86 L677.39,127.49 L677.31,127.12 L677.23,126.75 L677.19,126.38 L677.17,126.01 L677.13,125.64 L677.05,125.27 L676.78,124.90 L676.37,124.53 L675.91,124.16 L675.39,123.79 L674.78,123.43 L674.14,123.06 L673.52,122.69 L672.93,122.32 L672.33,121.95 L671.75,121.58 L671.24,121.21 L670.80,120.84 L670.36,120.47 L669.95,120.10 L669.64,119.73 L669.49,119.36 L669.57,118.99 L669.84,118.62 L670.23,118.25 L670.67,117.88 L671.09,117.51 L671.58,117.14 L672.14,116.77 L672.73,116.40 L673.28,116.03 L673.75,115.66 L674.26,115.29 L674.77,114.92 L675.21,114.55 L675.53,114.18 L675.66,113.82 L675.55,113.45 L675.25,113.08 L674.81,112.71 L674.30,112.34 L673.79,111.97 L673.32,111.60 L672.77,111.23 L672.19,110.86 L671.62,110.49 L671.13,110.12 L670.70,109.75 L670.26,109.38 L669.87,109.01 L669.59,108.64 L669.49,108.27 L669.62,107.90 L669.92,107.53 L670.33,107.16 L670.77,106.79 L671.20,106.42 L671.71,106.05 L672.28,105.68 L672.88,105.31 L673.47,104.94 L674.10,104.57 L674.76,104.21 L675.40,103.84 L675.95,103.47 L676.34,103.10 L676.68,102.73 L676.96,102.36 L677.13,101.99 L677.19,101.62 L677.23,101.25 L677.31,100.88 L677.39,100.51 L677.46,100.14 L677.53,99.77 L677.60,99.40Z" fill="#80C0C0" stroke="#118080" stroke-width="2.0" stroke-linejoin="round"/>
<line x1="676.70" x2="678.50" y1="113.8" y2="113.8" stroke="#118080" stroke-width="0.55" stroke-dasharray="2 1.2" opacity="0.85"/>
<line x1="670.50" x2="684.70" y1="108.3" y2="108.3" stroke="#118080" stroke-width="0.55" stroke-dasharray="0.8 1.2" opacity="0.85"/>
<line x1="670.50" x2="684.70" y1="119.3" y2="119.3" stroke="#118080" stroke-width="0.55" stroke-dasharray="0.8 1.2" opacity="0.85"/>
<path d="M704.20,143.20 L704.23,143.36 L704.26,143.53 L704.30,143.69 L704.33,143.86 L704.37,144.02 L704.41,144.19 L704.46,144.35 L704.51,144.52 L704.57,144.68 L704.72,144.85 L704.96,145.01 L705.29,145.17 L705.65,145.34 L706.02,145.50 L706.39,145.67 L706.80,145.83 L707.27,146.00 L707.76,146.16 L708.25,146.33 L708.72,146.49 L709.16,146.66 L709.65,146.82 L710.18,146.98 L710.70,147.15 L711.17,147.31 L711.56,147.48 L711.82,147.64 L711.91,147.81 L711.87,147.97 L711.78,148.14 L711.64,148.30 L711.47,148.47 L711.29,148.63 L711.11,148.79 L710.95,148.96 L710.79,149.12 L710.60,149.29 L710.42,149.45 L710.28,149.62 L710.21,149.78 L710.26,149.95 L710.38,150.11 L710.56,150.28 L710.75,150.44 L710.92,150.61 L711.07,150.77 L711.25,150.93 L711.43,151.10 L711.60,151.26 L711.75,151.43 L711.86,151.59 L711.91,151.76 L711.85,151.92 L711.63,152.09 L711.27,152.25 L710.81,152.42 L710.29,152.58 L709.76,152.74 L709.26,152.91 L708.82,153.07 L708.35,153.24 L707.86,153.40 L707.37,153.57 L706.90,153.73 L706.47,153.90 L706.10,154.06 L705.73,154.23 L705.36,154.39 L705.02,154.55 L704.75,154.72 L704.57,154.88 L704.49,155.05 L704.43,155.21 L704.38,155.38 L704.34,155.54 L704.30,155.71 L704.26,155.87 L704.23,156.04 L704.20,156.20 L704.20,156.20 L704.17,156.04 L704.14,155.87 L704.10,155.71 L704.06,155.54 L704.02,155.38 L703.97,155.21 L703.91,155.05 L703.83,154.88 L703.65,154.72 L703.38,154.55 L703.04,154.39 L702.67,154.23 L702.30,154.06 L701.93,153.90 L701.50,153.73 L701.03,153.57 L700.54,153.40 L700.05,153.24 L699.58,153.07 L699.14,152.91 L698.64,152.74 L698.11,152.58 L697.59,152.42 L697.13,152.25 L696.77,152.09 L696.55,151.92 L696.49,151.76 L696.54,151.59 L696.65,151.43 L696.80,151.26 L696.97,151.10 L697.15,150.93 L697.33,150.77 L697.48,150.61 L697.65,150.44 L697.84,150.28 L698.02,150.11 L698.14,149.95 L698.19,149.78 L698.12,149.62 L697.98,149.45 L697.80,149.29 L697.61,149.12 L697.45,148.96 L697.29,148.79 L697.11,148.63 L696.93,148.47 L696.76,148.30 L696.62,148.14 L696.53,147.97 L696.49,147.81 L696.58,147.64 L696.84,147.48 L697.23,147.31 L697.70,147.15 L698.22,146.98 L698.75,146.82 L699.24,146.66 L699.68,146.49 L700.15,146.33 L700.64,146.16 L701.13,146.00 L701.60,145.83 L702.01,145.67 L702.38,145.50 L702.75,145.34 L703.11,145.17 L703.44,145.01 L703.68,144.85 L703.83,144.68 L703.89,144.52 L703.94,144.35 L703.99,144.19 L704.03,144.02 L704.07,143.86 L704.10,143.69 L704.14,143.53 L704.17,143.36 L704.20,143.20Z" fill="#9F80C0" stroke="#3F0F80" stroke-width="2.0" stroke-linejoin="round"/>
<line x1="699.20" x2="709.20" y1="149.8" y2="149.8" stroke="#3F0F80" stroke-width="0.55" stroke-dasharray="2 1.2" opacity="0.85"/>
<line x1="697.55" x2="710.85" y1="148" y2="148" stroke="#3F0F80" stroke-width="0.55" stroke-dasharray="0.8 1.2" opacity="0.85"/>
<line x1="697.55" x2="710.85" y1="151.6" y2="151.6" stroke="#3F0F80" stroke-width="0.55" stroke-dasharray="0.8 1.2" opacity="0.85"/>
<path d="M731.40,105.80 L731.60,106.86 L731.78,107.93 L731.78,108.99 L731.79,110.05 L731.80,111.12 L731.81,112.18 L731.86,113.24 L731.95,114.31 L732.11,115.37 L732.31,116.43 L732.54,117.50 L732.80,118.56 L733.12,119.62 L733.50,120.69 L733.93,121.75 L734.39,122.81 L734.86,123.88 L735.41,124.94 L736.06,126.00 L736.73,127.07 L737.33,128.13 L737.78,129.19 L738.17,130.26 L738.54,131.32 L738.85,132.38 L739.05,133.45 L739.11,134.51 L739.06,135.57 L738.95,136.64 L738.81,137.70 L738.63,138.76 L738.44,139.83 L738.18,140.89 L737.77,141.95 L737.29,143.02 L736.79,144.08 L736.37,145.14 L736.09,146.21 L736.02,147.27 L736.10,148.33 L736.27,149.39 L736.51,150.46 L736.78,151.52 L737.06,152.58 L737.33,153.65 L737.60,154.71 L737.93,155.77 L738.30,156.84 L738.65,157.90 L738.93,158.96 L739.09,160.03 L739.09,161.09 L738.94,162.15 L738.69,163.22 L738.37,164.28 L738.00,165.34 L737.62,166.41 L737.24,167.47 L736.77,168.53 L736.22,169.60 L735.64,170.66 L735.06,171.72 L734.52,172.79 L734.02,173.85 L733.49,174.91 L733.00,175.98 L732.57,177.04 L732.26,178.10 L732.02,179.17 L731.87,180.23 L731.82,181.29 L731.81,182.36 L731.79,183.42 L731.79,184.48 L731.78,185.55 L731.78,186.61 L731.78,187.67 L731.60,188.74 L731.40,189.80 L731.40,189.80 L731.20,188.74 L731.02,187.67 L731.02,186.61 L731.02,185.55 L731.01,184.48 L731.01,183.42 L730.99,182.36 L730.98,181.29 L730.93,180.23 L730.78,179.17 L730.54,178.10 L730.23,177.04 L729.80,175.98 L729.31,174.91 L728.78,173.85 L728.28,172.79 L727.74,171.72 L727.16,170.66 L726.58,169.60 L726.03,168.53 L725.56,167.47 L725.18,166.41 L724.80,165.34 L724.43,164.28 L724.11,163.22 L723.86,162.15 L723.71,161.09 L723.71,160.03 L723.87,158.96 L724.15,157.90 L724.50,156.84 L724.87,155.77 L725.20,154.71 L725.47,153.65 L725.74,152.58 L726.02,151.52 L726.29,150.46 L726.53,149.39 L726.70,148.33 L726.78,147.27 L726.71,146.21 L726.43,145.14 L726.01,144.08 L725.51,143.02 L725.03,141.95 L724.62,140.89 L724.36,139.83 L724.17,138.76 L723.99,137.70 L723.85,136.64 L723.74,135.57 L723.69,134.51 L723.75,133.45 L723.95,132.38 L724.26,131.32 L724.63,130.26 L725.02,129.19 L725.47,128.13 L726.07,127.07 L726.74,126.00 L727.39,124.94 L727.94,123.88 L728.41,122.81 L728.87,121.75 L729.30,120.69 L729.68,119.62 L730.00,118.56 L730.26,117.50 L730.49,116.43 L730.69,115.37 L730.85,114.31 L730.94,113.24 L730.99,112.18 L731.00,111.12 L731.01,110.05 L731.02,108.99 L731.02,107.93 L731.20,106.86 L731.40,105.80Z" fill="#CCAAFF" stroke="#9955EE" stroke-width="2.0" stroke-linejoin="round"/>
<line x1="727.80" x2="735.00" y1="147.3" y2="147.3" stroke="#9955EE" stroke-width="0.55" stroke-dasharray="2 1.2" opacity="0.85"/>
<line x1="724.70" x2="738.10" y1="134.3" y2="134.3" stroke="#9955EE" stroke-width="0.55" stroke-dasharray="0.8 1.2" opacity="0.85"/>
<line x1="724.76" x2="738.04" y1="161.5" y2="161.5" stroke="#9955EE" stroke-width="0.55" stroke-dasharray="0.8 1.2" opacity="0.85"/>
<line x1="609.6" x2="751" y1="160.3" y2="160.3" stroke="#000" stroke-width="1.5" stroke-dasharray="1.4 2.9"/>
<line x1="624.3" y1="14.2" x2="737.8" y2="12.55" stroke="#555" stroke-width="0.85"/>
<text x="734.7" y="7.9" font-size="9.0" text-anchor="end" font-weight="normal" fill="#111" stroke="#111" stroke-width="0.18">0.9091</text>
<line x1="623.5" y1="27.3" x2="710.5" y2="26.5" stroke="#555" stroke-width="0.85"/>
<text x="713.2" y="25.5" font-size="9.0" text-anchor="end" font-weight="normal" fill="#111" stroke="#111" stroke-width="0.18">0.4364</text>
<line x1="623.5" y1="40.8" x2="676.3" y2="40.8" stroke="#555" stroke-width="0.85"/>
<text x="676" y="39.4" font-size="9.4" text-anchor="end" font-weight="bold" fill="#111" stroke="#111" stroke-width="0.18">0.0004</text>
<line x1="623.5" y1="57.4" x2="648.2" y2="57.4" stroke="#555" stroke-width="0.85"/>
<text x="652" y="52.5" font-size="9.0" text-anchor="end" font-weight="normal" fill="#111" stroke="#111" stroke-width="0.18">0.0907</text>
<line x1="677" y1="55.1" x2="737.8" y2="54.0" stroke="#555" stroke-width="0.85"/>
<text x="738.8" y="50.1" font-size="9.0" text-anchor="end" font-weight="normal" fill="#111" stroke="#111" stroke-width="0.18">0.0714</text>
<line x1="648.2" y1="72.2" x2="709.8" y2="71.4" stroke="#555" stroke-width="0.85"/>
<text x="706.6" y="69.2" font-size="9.0" text-anchor="end" font-weight="normal" fill="#111" stroke="#111" stroke-width="0.18">0.5000</text>
<text transform="translate(569.6 10.2) scale(1.05 1)" x="0" y="0" font-size="10.5" font-weight="bold" fill="#000">C</text>
</svg>
</body></html>
